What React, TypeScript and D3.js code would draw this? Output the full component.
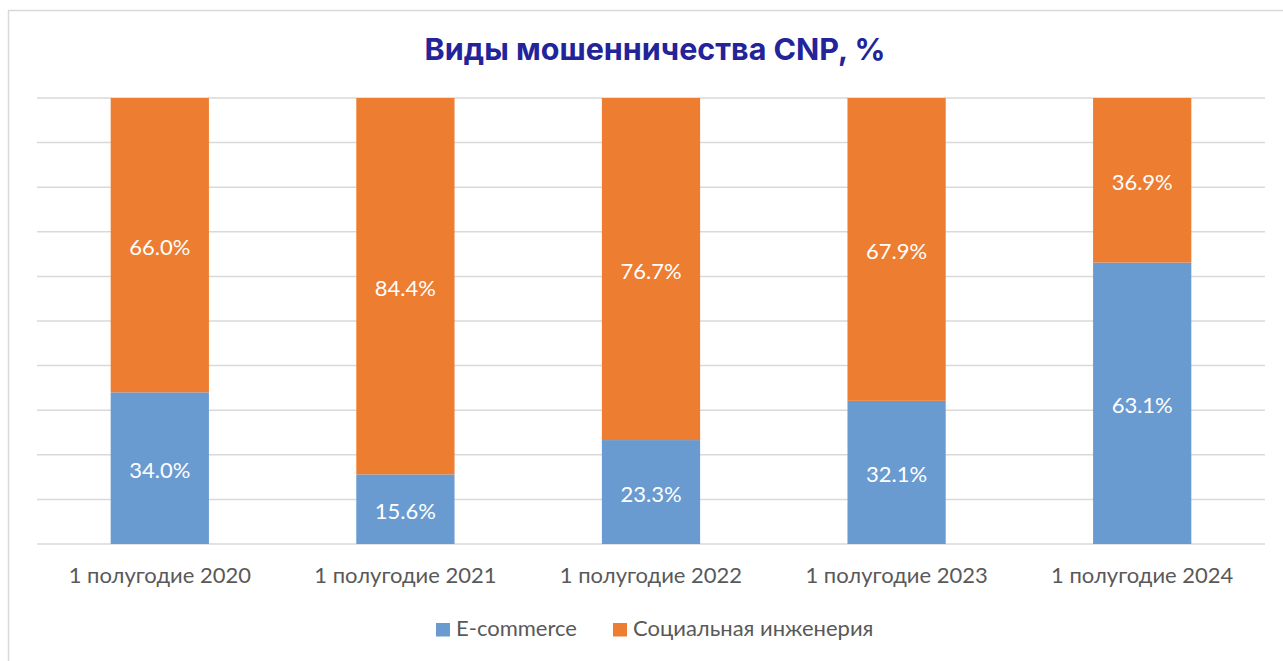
import * as d3 from "d3";

// chart data
const categories = [
  "1 полугодие 2020",
  "1 полугодие 2021",
  "1 полугодие 2022",
  "1 полугодие 2023",
  "1 полугодие 2024",
];
const ecommerce = [34.0, 15.6, 23.3, 32.1, 63.1];
const social = [66.0, 84.4, 76.7, 67.9, 36.9];
const seriesNames = ["E-commerce", "Социальная инженерия"];
const colors = ["#699BD1", "#ED7D31"];

const width = 1283;
const height = 661;
const margin = { top: 98, right: 18, bottom: 117, left: 37 };
const font = "Lato, 'Open Sans', sans-serif";

export default function App() {
  const rows = categories.map((c, i) => ({
    cat: c,
    ecom: ecommerce[i],
    soc: social[i],
  }));

  const x = d3
    .scaleBand()
    .domain(categories)
    .range([margin.left, width - margin.right])
    .paddingInner(0.6)
    .paddingOuter(0.3);

  const y = d3
    .scaleLinear()
    .domain([0, 100])
    .range([height - margin.bottom, margin.top]);

  const stack = d3.stack<any>().keys(["ecom", "soc"]);
  const layers = stack(rows);

  const ticks = d3.range(0, 101, 10);

  return (
    <svg
      width={width}
      height={height}
      style={{ position: "absolute", left: 0, top: 0, fontFamily: font }}
    >
      <rect x={0} y={0} width={width} height={height} fill="#fff" />
      {/* frame */}
      <rect
        x={8.5}
        y={10.5}
        width={width + 20}
        height={height + 20}
        fill="none"
        stroke="#d9d9d9"
        strokeWidth={1.5}
      />

      <text
        x={655}
        y={60}
        textAnchor="middle"
        fontFamily="Inter, Roboto, sans-serif"
        fontWeight={700}
        fontSize={30.5}
        fill="#23239A"
      >
        Виды мошенничества CNP, %
      </text>

      {/* gridlines */}
      {ticks.map((t) => (
        <line
          key={t}
          x1={margin.left}
          x2={width - margin.right}
          y1={y(t)}
          y2={y(t)}
          stroke="#d9d9d9"
          strokeWidth={1.5}
        />
      ))}

      {/* bars */}
      {layers.map((layer, li) => (
        <g key={li}>
          {layer.map((d, i) => (
            <rect
              key={i}
              x={x(categories[i])}
              y={y(d[1])}
              width={x.bandwidth()}
              height={y(d[0]) - y(d[1])}
              fill={colors[li]}
            />
          ))}
          {layer.map((d, i) => (
            <text
              key={"t" + i}
              x={x(categories[i])! + x.bandwidth() / 2}
              y={y((d[0] + d[1]) / 2) + 10}
              textAnchor="middle"
              fontSize={22}
              fill="#fff"
            >
              {(d[1] - d[0]).toFixed(1)}%
            </text>
          ))}
        </g>
      ))}

      {/* category labels */}
      {categories.map((c) => (
        <text
          key={c}
          x={x(c)! + x.bandwidth() / 2}
          y={y(0) + 39}
          textAnchor="middle"
          fontSize={22}
          fill="#595959"
        >
          {c}
        </text>
      ))}

      {/* legend */}
      <g>
        <rect x={436} y={623} width={14} height={13.5} fill={colors[0]} />
        <text x={456} y={636} fontSize={22} fill="#595959">
          {seriesNames[0]}
        </text>
        <rect x={613} y={623} width={14} height={13.5} fill={colors[1]} />
        <text x={633} y={636} fontSize={22} fill="#595959">
          {seriesNames[1]}
        </text>
      </g>
    </svg>
  );
}
